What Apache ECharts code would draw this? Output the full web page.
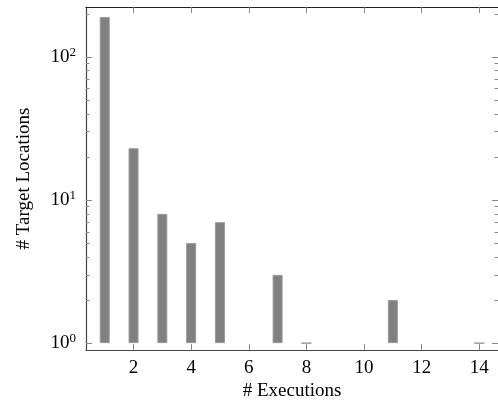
<!DOCTYPE html>
<html>
<head>
<meta charset="utf-8">
<script src="https://cdn.jsdelivr.net/npm/echarts@6/dist/echarts.min.js"></script>
<style>
html,body{margin:0;padding:0;background:#fff;}
#c{width:498px;height:406px;}
</style>
</head>
<body>
<div id="c"></div>
<script>
// Data
const executions = [1, 2, 3, 4, 5, 7, 8, 11, 14];
const targetLocations = [190, 23, 8, 5, 7, 3, 1, 2, 1];
const xTicks = [2, 4, 6, 8, 10, 12, 14];
const yMajorTicks = [1, 10, 100];
const yExponents = ['0', '1', '2'];
const yMinorTicks = [2,3,4,5,6,7,8,9,20,30,40,50,60,70,80,90,200];

const X_MIN = 0.35, X_MAX = 14.65;
const Y_MIN = 0.894, Y_MAX = 223;
const FONT = '"Liberation Serif", "DejaVu Serif", serif';
const LINE = '#444';
const TICK = '#888';

const chart = echarts.init(document.getElementById('c'), null, {renderer: 'canvas'});

function yAxisDef(pos, minor, showLabel, showLine) {
  return {
    type: 'log', logBase: 10, min: Y_MIN, max: Y_MAX, position: pos,
    gridIndex: 0,
    axisLine: {show: showLine, lineStyle: {color: LINE, width: 1.2}},
    splitLine: {show: false},
    axisTick: {show: true, inside: true, length: minor ? 3.5 : 6,
      customValues: minor ? yMinorTicks : yMajorTicks,
      lineStyle: {color: TICK, width: 1}},
    axisLabel: {show: showLabel, customValues: yMajorTicks, margin: 10,
      fontFamily: FONT, color: '#000',
      formatter: function (v) {
        const i = yMajorTicks.indexOf(Math.round(v));
        return '{b|10}{s|' + (i >= 0 ? yExponents[i] : '') + '}';
      },
      rich: {
        b: {fontSize: 19, fontFamily: FONT, color: '#000', lineHeight: 22},
        s: {fontSize: 13, fontFamily: FONT, color: '#000', verticalAlign: 'top', lineHeight: 22, padding: [0, 0, 9, 0]}
      }
    },
    name: showLabel ? '# Target Locations' : '',
    nameLocation: 'middle', nameGap: 52, nameRotate: 90,
    nameTextStyle: {fontFamily: FONT, fontSize: 19, color: '#000'}
  };
}

const option = {
  animation: false,
  backgroundColor: '#fff',
  grid: {left: 86, top: 7, width: 415, height: 345, containLabel: false},
  xAxis: [
    {
      type: 'value', min: X_MIN, max: X_MAX, position: 'bottom',
      axisLine: {show: true, onZero: false, lineStyle: {color: LINE, width: 1.2}},
      splitLine: {show: false},
      axisTick: {show: true, inside: true, length: 6, customValues: xTicks,
        lineStyle: {color: TICK, width: 1}},
      axisLabel: {customValues: xTicks, margin: 8, fontFamily: FONT, fontSize: 19, color: '#000'},
      name: '# Executions', nameLocation: 'middle', nameGap: 28,
      nameTextStyle: {fontFamily: FONT, fontSize: 19, color: '#000', verticalAlign: 'top'}
    },
    {
      type: 'value', min: X_MIN, max: X_MAX, position: 'top',
      axisLine: {show: true, onZero: false, lineStyle: {color: '#222', width: 1.2}},
      splitLine: {show: false},
      axisTick: {show: true, inside: true, length: 6, customValues: xTicks,
        lineStyle: {color: TICK, width: 1}},
      axisLabel: {show: false}
    }
  ],
  yAxis: [
    yAxisDef('left', false, true, true),
    yAxisDef('left', true, false, false),
    yAxisDef('right', false, false, false),
    yAxisDef('right', true, false, false)
  ],
  series: [{
    type: 'bar',
    xAxisIndex: 0, yAxisIndex: 0,
    barWidth: 10,
    data: executions.map((x, i) => [x, targetLocations[i]]),
    itemStyle: {color: '#808080', borderColor: '#9a9a9a', borderWidth: 1}
  }]
};
chart.setOption(option);
</script>
</body>
</html>
